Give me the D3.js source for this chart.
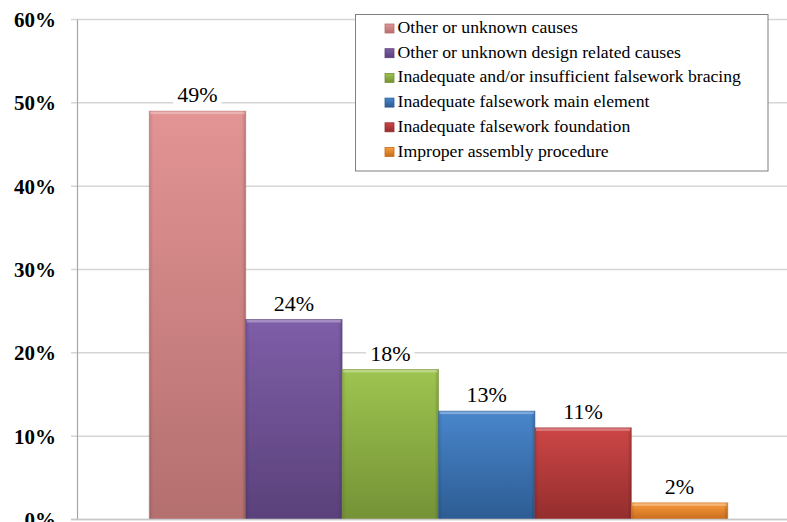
<!DOCTYPE html>
<html>
<head>
<meta charset="utf-8">
<script src="https://cdn.jsdelivr.net/npm/d3@7"></script>
<style>
  html, body { margin: 0; padding: 0; background: #fff; }
  svg { display: block; }
</style>
</head>
<body>
<svg id="chart" width="787" height="522"></svg>
<script>
// Causes of falsework failures, share of cases
const causes = [
  "Other or unknown causes",
  "Other or unknown design related causes",
  "Inadequate and/or insufficient falsework bracing",
  "Inadequate falsework main element",
  "Inadequate falsework foundation",
  "Improper assembly procedure"
];
const shares = [0.49, 0.24, 0.18, 0.13, 0.11, 0.02];
const yTicks = [0, 0.1, 0.2, 0.3, 0.4, 0.5, 0.6];
const topColors = ["#e39494", "#7e5ea8", "#9ec450", "#4886cb", "#cd4646", "#f89c3e"];
const bottomColors = ["#b46f6f", "#5a417a", "#749236", "#2d5c93", "#942d2d", "#c96c1d"];

const SERIF = '"Liberation Serif", "Times New Roman", serif';
const svg = d3.select("#chart");
const W = 787;
const axisX = 77.5;

const y = d3.scaleLinear().domain([0, 0.6]).range([519.5, 19.5]);
const x = d3.scaleBand().domain(causes).range([149.3, 727.7]).padding(0);
const pct = d3.format(".0%");

// gradients for each bar
const defs = svg.append("defs");
causes.forEach((c, i) => {
  const g = defs.append("linearGradient")
    .attr("id", "grad" + i).attr("x1", 0).attr("y1", 0).attr("x2", 0).attr("y2", 1);
  g.append("stop").attr("offset", "0%").attr("stop-color", topColors[i]);
  g.append("stop").attr("offset", "100%").attr("stop-color", bottomColors[i]);
  const h = defs.append("linearGradient")
    .attr("id", "side" + i).attr("x1", 0).attr("y1", 0).attr("x2", 1).attr("y2", 0);
  h.append("stop").attr("offset", "0%").attr("stop-color", "#000").attr("stop-opacity", 0.12);
  h.append("stop").attr("offset", "4%").attr("stop-color", "#000").attr("stop-opacity", 0);
  h.append("stop").attr("offset", "96%").attr("stop-color", "#000").attr("stop-opacity", 0);
  h.append("stop").attr("offset", "100%").attr("stop-color", "#000").attr("stop-opacity", 0.18);
});

// horizontal gridlines with outward tick marks
svg.append("g").selectAll("line").data(yTicks).join("line")
  .attr("x1", 71).attr("x2", W)
  .attr("y1", d => y(d)).attr("y2", d => y(d))
  .attr("stroke", "#d6d6d6").attr("stroke-width", 1.5);

// y axis tick labels
svg.append("g").selectAll("text").data(yTicks).join("text")
  .attr("x", 56).attr("y", d => y(d) + 7.5)
  .attr("text-anchor", "end")
  .style("font-family", SERIF)
  .style("font-weight", "bold").style("font-size", "21px")
  .attr("fill", "#000")
  .text(d => pct(d));

// bars
const bars = svg.append("g").selectAll("g").data(causes).join("g");
bars.append("rect")
  .attr("x", d => x(d)).attr("width", x.bandwidth())
  .attr("y", (d, i) => y(shares[i])).attr("height", (d, i) => y(0) - y(shares[i]))
  .attr("fill", (d, i) => `url(#grad${i})`);
bars.append("rect")
  .attr("x", d => x(d)).attr("width", x.bandwidth())
  .attr("y", (d, i) => y(shares[i])).attr("height", (d, i) => y(0) - y(shares[i]))
  .attr("fill", (d, i) => `url(#side${i})`)
  .attr("stroke", (d, i) => bottomColors[i]).attr("stroke-opacity", 0.55).attr("stroke-width", 1);
// top bevel highlight
bars.append("rect")
  .attr("x", d => x(d) + 1).attr("width", x.bandwidth() - 2)
  .attr("y", (d, i) => y(shares[i]) + 0.5).attr("height", 2.5)
  .attr("fill", "#fff").attr("fill-opacity", 0.3);

// vertical axis and baseline
svg.append("line").attr("x1", axisX).attr("x2", axisX).attr("y1", y(0.6)).attr("y2", y(0))
  .attr("stroke", "#a6a6a6").attr("stroke-width", 1.2);
svg.append("line").attr("x1", 71).attr("x2", W).attr("y1", y(0)).attr("y2", y(0))
  .attr("stroke", "#c8c8c8").attr("stroke-width", 1.5);

// value labels with white backing
const labels = svg.append("g").selectAll("g").data(causes).join("g");
labels.each(function(d, i) {
  const g = d3.select(this);
  const cx = x(d) + x.bandwidth() / 2;
  const base = y(shares[i]) - 9;
  const t = g.append("text")
    .attr("x", cx).attr("y", base)
    .attr("text-anchor", "middle")
    .style("font-family", SERIF).style("font-size", "22px")
    .attr("fill", "#000")
    .text(pct(shares[i]));
  const w = t.node().getComputedTextLength();
  g.insert("rect", "text")
    .attr("x", cx - w / 2 - 4).attr("width", w + 8)
    .attr("y", base - 17).attr("height", 20)
    .attr("fill", "#fff");
});

// legend
const lg = svg.append("g");
lg.append("rect").attr("x", 355.5).attr("y", 14.5).attr("width", 412.5).attr("height", 156.5)
  .attr("fill", "#fff").attr("stroke", "#7f7f7f").attr("stroke-width", 1);
const rows = lg.selectAll("g").data(causes).join("g")
  .attr("transform", (d, i) => `translate(385, ${33 + i * 24.7})`);
rows.append("rect").attr("x", 0).attr("y", -9).attr("width", 9).attr("height", 9)
  .attr("fill", (d, i) => `url(#grad${i})`)
  .attr("stroke", (d, i) => bottomColors[i]).attr("stroke-width", 0.8);
rows.append("text")
  .attr("x", 12.5).attr("y", 0)
  .style("font-family", SERIF).style("font-size", "17.7px")
  .attr("fill", "#000")
  .text(d => d);
</script>
</body>
</html>
